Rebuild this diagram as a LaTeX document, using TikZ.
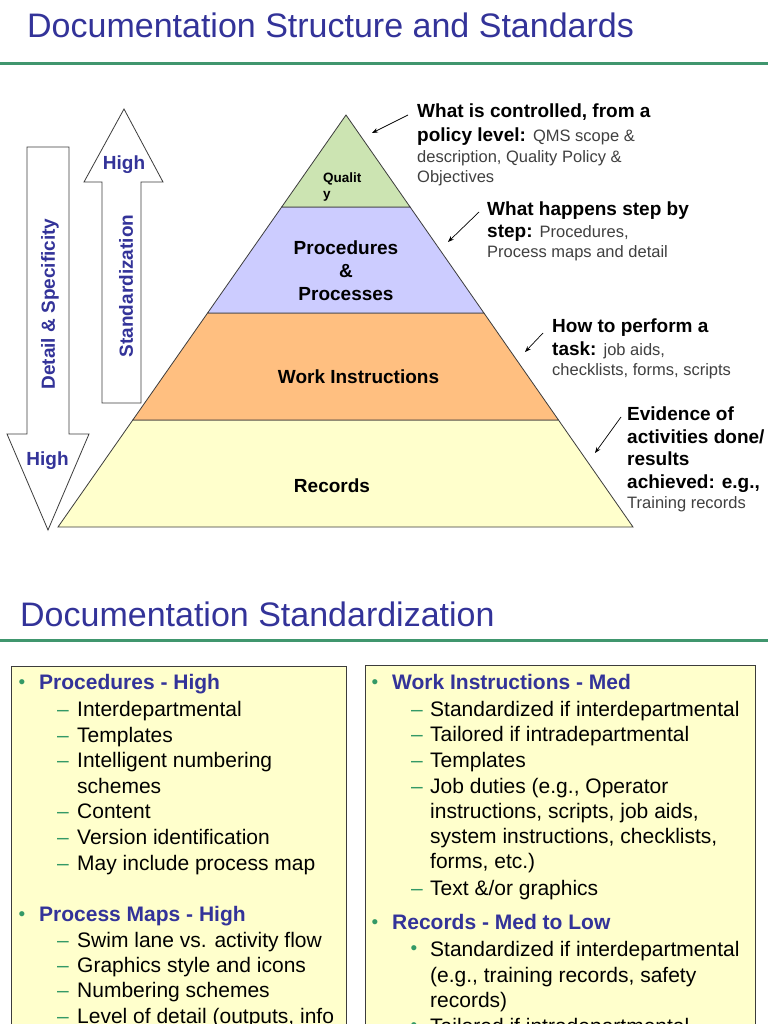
\documentclass[tikz,border=0pt]{standalone}
\usepackage{fontspec}
\setmainfont{Liberation Sans}
\usetikzlibrary{arrows.meta,calc}
\definecolor{ttl}{RGB}{51,51,153}
\definecolor{rulec}{RGB}{64,150,110}
\definecolor{qgreen}{RGB}{204,228,178}
\definecolor{pblue}{RGB}{204,204,255}
\definecolor{worange}{RGB}{255,191,128}
\definecolor{ryellow}{RGB}{255,255,204}
\definecolor{graytxt}{RGB}{64,64,64}
\definecolor{bulgreen}{RGB}{51,153,102}
\definecolor{edgec}{RGB}{60,60,60}
\newcommand\fsz[1]{\fontsize{#1}{#1}\selectfont}
\newcommand\gr[1]{{\mdseries\color{graytxt}\fsz{16.5}#1}}
\begin{document}
\begin{tikzpicture}[x=1pt,y=-1pt,
  titletxt/.style={anchor=base west,inner sep=0,text=ttl,font=\fsz{34}},
  rulel/.style={draw=rulec,line width=3pt},
  layer/.style={draw=edgec,line width=0.8pt},
  plabel/.style={inner sep=0,anchor=base,font=\bfseries\fsz{19}},
  bigarrow/.style={draw=edgec,fill=white,line width=0.8pt},
  arrlabel/.style={inner sep=0,text=ttl,font=\bfseries\fsz{19}},
  ann/.style={anchor=base west,inner sep=0,font=\bfseries\fsz{19}},
  annarrow/.style={draw=black,line width=0.7pt,-{Stealth[length=6pt,width=4.5pt]}},
  box/.style={draw=edgec,fill=ryellow,line width=0.8pt},
  hdr/.style={anchor=base west,inner sep=0,text=ttl,font=\bfseries\fsz{21}},
  body/.style={anchor=base west,inner sep=0,font=\fsz{21}},
  dsh/.style={anchor=base west,inner sep=0,text=bulgreen,font=\fsz{21}},
  bul/.style={anchor=base,inner sep=0,text=bulgreen,font=\fsz{19}}
]
\useasboundingbox (0,0) rectangle (768,1024);
\clip (0,0) rectangle (768,1024);
\fill[white] (0,0) rectangle (768,1024);

% ---------- Slide 1 ----------
\node[titletxt] (title1) at (27,38) {Documentation Structure and Standards};
\draw[rulel] (0,64) -- (768,64);

% pyramid
\coordinate (apex) at (346,115);
\coordinate (bl) at (58,527);
\coordinate (br) at (633,527);
\coordinate (l1) at ($(apex)!0.2233!(bl)$);
\coordinate (r1) at ($(apex)!0.2233!(br)$);
\coordinate (l2) at ($(apex)!0.4806!(bl)$);
\coordinate (r2) at ($(apex)!0.4806!(br)$);
\coordinate (l3) at ($(apex)!0.7403!(bl)$);
\coordinate (r3) at ($(apex)!0.7403!(br)$);
\filldraw[layer,fill=ryellow] (l3) -- (r3) -- (br) -- (bl) -- cycle;
\filldraw[layer,fill=worange] (l2) -- (r2) -- (r3) -- (l3) -- cycle;
\filldraw[layer,fill=pblue] (l1) -- (r1) -- (r2) -- (l2) -- cycle;
\filldraw[layer,fill=qgreen] (apex) -- (r1) -- (l1) -- cycle;

\node[anchor=base west,inner sep=0,font=\bfseries\fsz{13.5}] (q1) at (323,183) {Qualit};
\node[anchor=base west,inner sep=0,font=\bfseries\fsz{13.5}] (q2) at (323,199) {y};
\node[plabel] (p1) at (346,254) {Procedures};
\node[plabel] (p2) at (346,277) {\&};
\node[plabel] (p3) at (346,300) {Processes};
\node[plabel] (wi) at (358.5,383) {Work Instructions};
\node[plabel] (rec) at (332,492) {Records};

% left block arrows
\filldraw[bigarrow] (27,147) -- (69,147) -- (69,434) -- (89,434) -- (48,530) -- (7,434) -- (27,434) -- cycle;
\filldraw[bigarrow] (124,109) -- (163,182) -- (141,182) -- (141,403) -- (102,403) -- (102,182) -- (84,182) -- cycle;
\node[arrlabel,rotate=90] (detail) at (50,304) {Detail \& Specificity};
\node[arrlabel,anchor=base] (high2) at (47.5,465) {High};
\node[arrlabel,rotate=90] (stdz) at (126,286) {Standardization};
\node[arrlabel,anchor=base] (high1) at (124,170) {High};

% annotations
\node[ann] (a1) at (417,118) {What is controlled, from a};
\node[ann] (a2) at (417,142) {policy level: \gr{QMS scope \&}};
\node[ann] (a3) at (417,163) {\gr{description, Quality Policy \&}};
\node[ann] (a4) at (417,183) {\gr{Objectives}};
\node[ann] (b1) at (487,215) {What happens step by};
\node[ann] (b2) at (487,237) {step: \gr{Procedures,}};
\node[ann] (b3) at (487,258) {\gr{Process maps and detail}};
\node[ann] (c1) at (552,332) {How to perform a};
\node[ann] (c2) at (552,355) {task: \gr{job aids,}};
\node[ann] (c3) at (552,375) {\gr{checklists, forms, scripts}};
\node[ann] (d1) at (627,420) {Evidence of};
\node[ann] (d2) at (627,443) {activities done/};
\node[ann] (d3) at (627,465) {results};
\node[ann] (d4) at (627,488) {achieved: e.g.,};
\node[ann] (d5) at (627,508) {\gr{Training records}};

\coordinate (a1s) at (408,115); \coordinate (a1t) at (372,133);
\coordinate (b1s) at (479,212); \coordinate (b1t) at (448,242);
\coordinate (c1s) at (543,333); \coordinate (c1t) at (525,352);
\coordinate (d1s) at (621,417); \coordinate (d1t) at (595,453);
\draw[annarrow] (a1s) -- (a1t);
\draw[annarrow] (b1s) -- (b1t);
\draw[annarrow] (c1s) -- (c1t);
\draw[annarrow] (d1s) -- (d1t);

% ---------- Slide 2 ----------
\node[titletxt] (title2) at (20,626) {Documentation Standardization};
\draw[rulel] (0,640.5) -- (768,640.5);

\filldraw[box] (11,666) rectangle (346,1040);
\filldraw[box] (365,665) rectangle (755,1040);

% left box
\node[bul] (lb1) at (22,688) {•};
\node[hdr] (lh1) at (39,689) {Procedures - High};
\node[dsh] (ld1) at (57,716) {–}; \node[body] (lt1) at (77,716) {Interdepartmental};
\node[dsh] (ld2) at (57,742) {–}; \node[body] (lt2) at (77,742) {Templates};
\node[dsh] (ld3) at (57,767) {–}; \node[body] (lt3) at (77,767) {Intelligent numbering};
\node[body] (lt4) at (77,793) {schemes};
\node[dsh] (ld5) at (57,818) {–}; \node[body] (lt5) at (77,818) {Content};
\node[dsh] (ld6) at (57,844) {–}; \node[body] (lt6) at (77,844) {Version identification};
\node[dsh] (ld7) at (57,870) {–}; \node[body] (lt7) at (77,870) {May include process map};
\node[bul] (lb2) at (22,920) {•};
\node[hdr] (lh2) at (39,921) {Process Maps - High};
\node[dsh] (ld8) at (57,947) {–}; \node[body] (lt8) at (77,947) {Swim lane vs. activity flow};
\node[dsh] (ld9) at (57,972) {–}; \node[body] (lt9) at (77,972) {Graphics style and icons};
\node[dsh] (ld10) at (57,997) {–}; \node[body] (lt10) at (77,997) {Numbering schemes};
\node[dsh] (ld11) at (57,1023) {–}; \node[body] (lt11) at (77,1023) {Level of detail (outputs, info};

% right box
\node[bul] (rb1) at (375,688) {•};
\node[hdr] (rh1) at (392,689) {Work Instructions - Med};
\node[dsh] (rd1) at (411,716) {–}; \node[body] (rt1) at (430,716) {Standardized if interdepartmental};
\node[dsh] (rd2) at (411,741) {–}; \node[body] (rt2) at (430,741) {Tailored if intradepartmental};
\node[dsh] (rd3) at (411,767) {–}; \node[body] (rt3) at (430,767) {Templates};
\node[dsh] (rd4) at (411,793) {–}; \node[body] (rt4) at (430,793) {Job duties (e.g., Operator};
\node[body] (rt5) at (430,818) {instructions, scripts, job aids,};
\node[body] (rt6) at (430,843) {system instructions, checklists,};
\node[body] (rt7) at (430,868) {forms, etc.)};
\node[dsh] (rd8) at (411,895) {–}; \node[body] (rt8) at (430,895) {Text \&/or graphics};
\node[bul] (rb2) at (375,928) {•};
\node[hdr] (rh2) at (392,929) {Records - Med to Low};
\node[bul] (rs1) at (414,954) {•}; \node[body] (rt9) at (430,956) {Standardized if interdepartmental};
\node[body] (rt10) at (430,982) {(e.g., training records, safety};
\node[body] (rt11) at (430,1007) {records)};
\node[bul] (rs2) at (414,1031) {•}; \node[body] (rt12) at (430,1033) {Tailored if intradepartmental};
\end{tikzpicture}
\end{document}
